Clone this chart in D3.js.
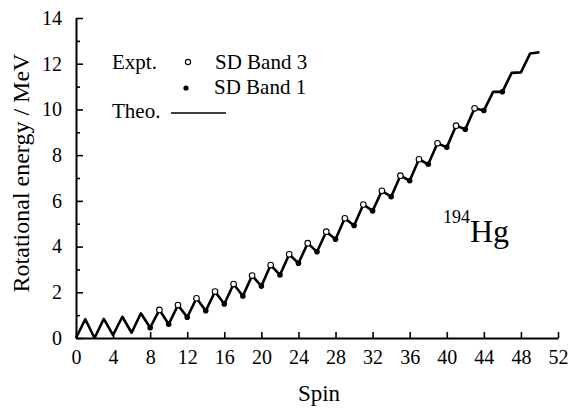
<!DOCTYPE html>
<html>
<head>
<meta charset="utf-8">
<script src="https://cdn.jsdelivr.net/npm/d3@7"></script>
<style>
  body { margin: 0; background: #fff; }
  svg text { font-family: 'Liberation Serif', 'Times New Roman', Tinos, 'DejaVu Serif', serif !important; fill: #000; }
</style>
</head>
<body>
<svg id="chart" width="582" height="412"></svg>
<script>
/* global d3 */

// theoretical curve, one value per spin
const theoSpin = [0, 1, 2, 3, 4, 5, 6, 7, 8, 9, 10, 11, 12, 13, 14, 15, 16, 17, 18, 19, 20,
  21, 22, 23, 24, 25, 26, 27, 28, 29, 30, 31, 32, 33, 34, 35, 36, 37, 38, 39, 40,
  41, 42, 43, 44, 45, 46, 47, 48, 49, 50]
const theoE = [0, 0.82, 0, 0.84, 0.13, 0.93, 0.23, 1.08, 0.45, 1.23, 0.60, 1.44, 0.91, 1.74, 1.19,
  2.03, 1.49, 2.36, 1.84, 2.73, 2.27, 3.19, 2.76, 3.66, 3.27, 4.15, 3.77, 4.65, 4.32, 5.24, 4.92,
  5.84, 5.56, 6.44, 6.18, 7.10, 6.88, 7.82, 7.60, 8.52, 8.34, 9.29, 9.13, 10.05, 9.95, 10.77, 10.77,
  11.60, 11.62, 12.45, 12.50]

// experiment, SD band 3 (open) and SD band 1 (filled)
const band3Spin = [9, 11, 13, 15, 17, 19, 21, 23, 25, 27, 29, 31, 33, 35, 37, 39, 41, 43]
const band3E = [1.23, 1.44, 1.74, 2.03, 2.36, 2.73, 3.19, 3.66, 4.15, 4.65, 5.24, 5.84, 6.44, 7.10,
  7.82, 8.52, 9.29, 10.05]
const band1Spin = [8, 10, 12, 14, 16, 18, 20, 22, 24, 26, 28, 30, 32, 34, 36, 38, 40, 42, 44, 46]
const band1E = [0.45, 0.60, 0.91, 1.19, 1.49, 1.84, 2.27, 2.76, 3.27, 3.77, 4.32, 4.92, 5.56, 6.18,
  6.88, 7.60, 8.34, 9.13, 9.95, 10.77]

const xTicks = [0, 4, 8, 12, 16, 20, 24, 28, 32, 36, 40, 44, 48, 52]
const yTicks = [0, 1, 2, 3, 4, 5, 6, 7, 8, 9, 10, 11, 12, 13, 14]

const serif = 'Liberation Serif'

const svg = d3.select('#chart')

const x = d3.scaleLinear().domain([0, 52]).range([76, 558])
const y = d3.scaleLinear().domain([0, 14]).range([338, 18])

// axes, ticks point inward
svg.append('g')
  .attr('transform', 'translate(0,' + y(0) + ')')
  .call(d3.axisBottom(x).tickValues(xTicks).tickSizeInner(-6).tickSizeOuter(0).tickPadding(12))

const yAxis = svg.append('g')
  .attr('transform', 'translate(' + x(0) + ',0)')
  .call(d3.axisLeft(y).tickValues(yTicks).tickSizeInner(-7).tickSizeOuter(0).tickPadding(14)
    .tickFormat(d => d % 2 === 0 ? d : ''))

yAxis.selectAll('.tick line').attr('x2', d => d % 2 === 0 ? 7 : 4)

svg.selectAll('g').attr('font-family', serif)
svg.selectAll('.domain').attr('stroke-width', 2)
svg.selectAll('.tick line').attr('stroke-width', 1.6)
svg.selectAll('.tick text').attr('font-size', 20)

// theory line
const line = d3.line()
  .x(d => x(d[0]))
  .y(d => y(d[1]))

svg.append('path')
  .datum(theoSpin.map((s, i) => [s, theoE[i]]))
  .attr('d', line)
  .attr('fill', 'none')
  .attr('stroke', '#000')
  .attr('stroke-width', 2.6)
  .attr('stroke-linejoin', 'round')

svg.selectAll('.band1')
  .data(band1Spin.map((s, i) => [s, band1E[i]]))
  .enter()
  .append('circle')
  .attr('class', 'band1')
  .attr('cx', d => x(d[0]))
  .attr('cy', d => y(d[1]))
  .attr('r', 2.8)
  .attr('fill', '#000')

svg.selectAll('.band3')
  .data(band3Spin.map((s, i) => [s, band3E[i]]))
  .enter()
  .append('circle')
  .attr('class', 'band3')
  .attr('cx', d => x(d[0]))
  .attr('cy', d => y(d[1]))
  .attr('r', 2.8)
  .attr('fill', '#fff')
  .attr('stroke', '#000')
  .attr('stroke-width', 1.1)

// axis titles
svg.append('text')
  .attr('x', 319)
  .attr('y', 401)
  .attr('text-anchor', 'middle')
  .attr('font-family', serif)
  .attr('font-size', 23)
  .text('Spin')

svg.append('text')
  .attr('transform', 'translate(29,173) rotate(-90)')
  .attr('text-anchor', 'middle')
  .attr('font-family', serif)
  .attr('font-size', 24)
  .text('Rotational energy / MeV')

// legend
const legend = svg.append('g').attr('font-size', 21).attr('font-family', serif)
legend.append('text').attr('x', 112).attr('y', 69).text('Expt.')
legend.append('circle').attr('cx', 188).attr('cy', 62).attr('r', 2.6)
  .attr('fill', '#fff').attr('stroke', '#000').attr('stroke-width', 1.1)
legend.append('text').attr('x', 215).attr('y', 69).text('SD Band 3')
legend.append('circle').attr('cx', 186).attr('cy', 88).attr('r', 2.6).attr('fill', '#000')
legend.append('text').attr('x', 214).attr('y', 94).text('SD Band 1')
legend.append('text').attr('x', 112).attr('y', 118).text('Theo.')
legend.append('line')
  .attr('x1', 171).attr('x2', 226).attr('y1', 113).attr('y2', 113)
  .attr('stroke', '#000').attr('stroke-width', 1.6)

// nucleus label
const nuc = svg.append('text').attr('x', 443).attr('y', 242).attr('font-family', serif)
nuc.append('tspan').attr('font-size', 18).attr('dy', -19).text('194')
nuc.append('tspan').attr('font-size', 32).attr('dy', 19).text('Hg')
</script>
</body>
</html>
